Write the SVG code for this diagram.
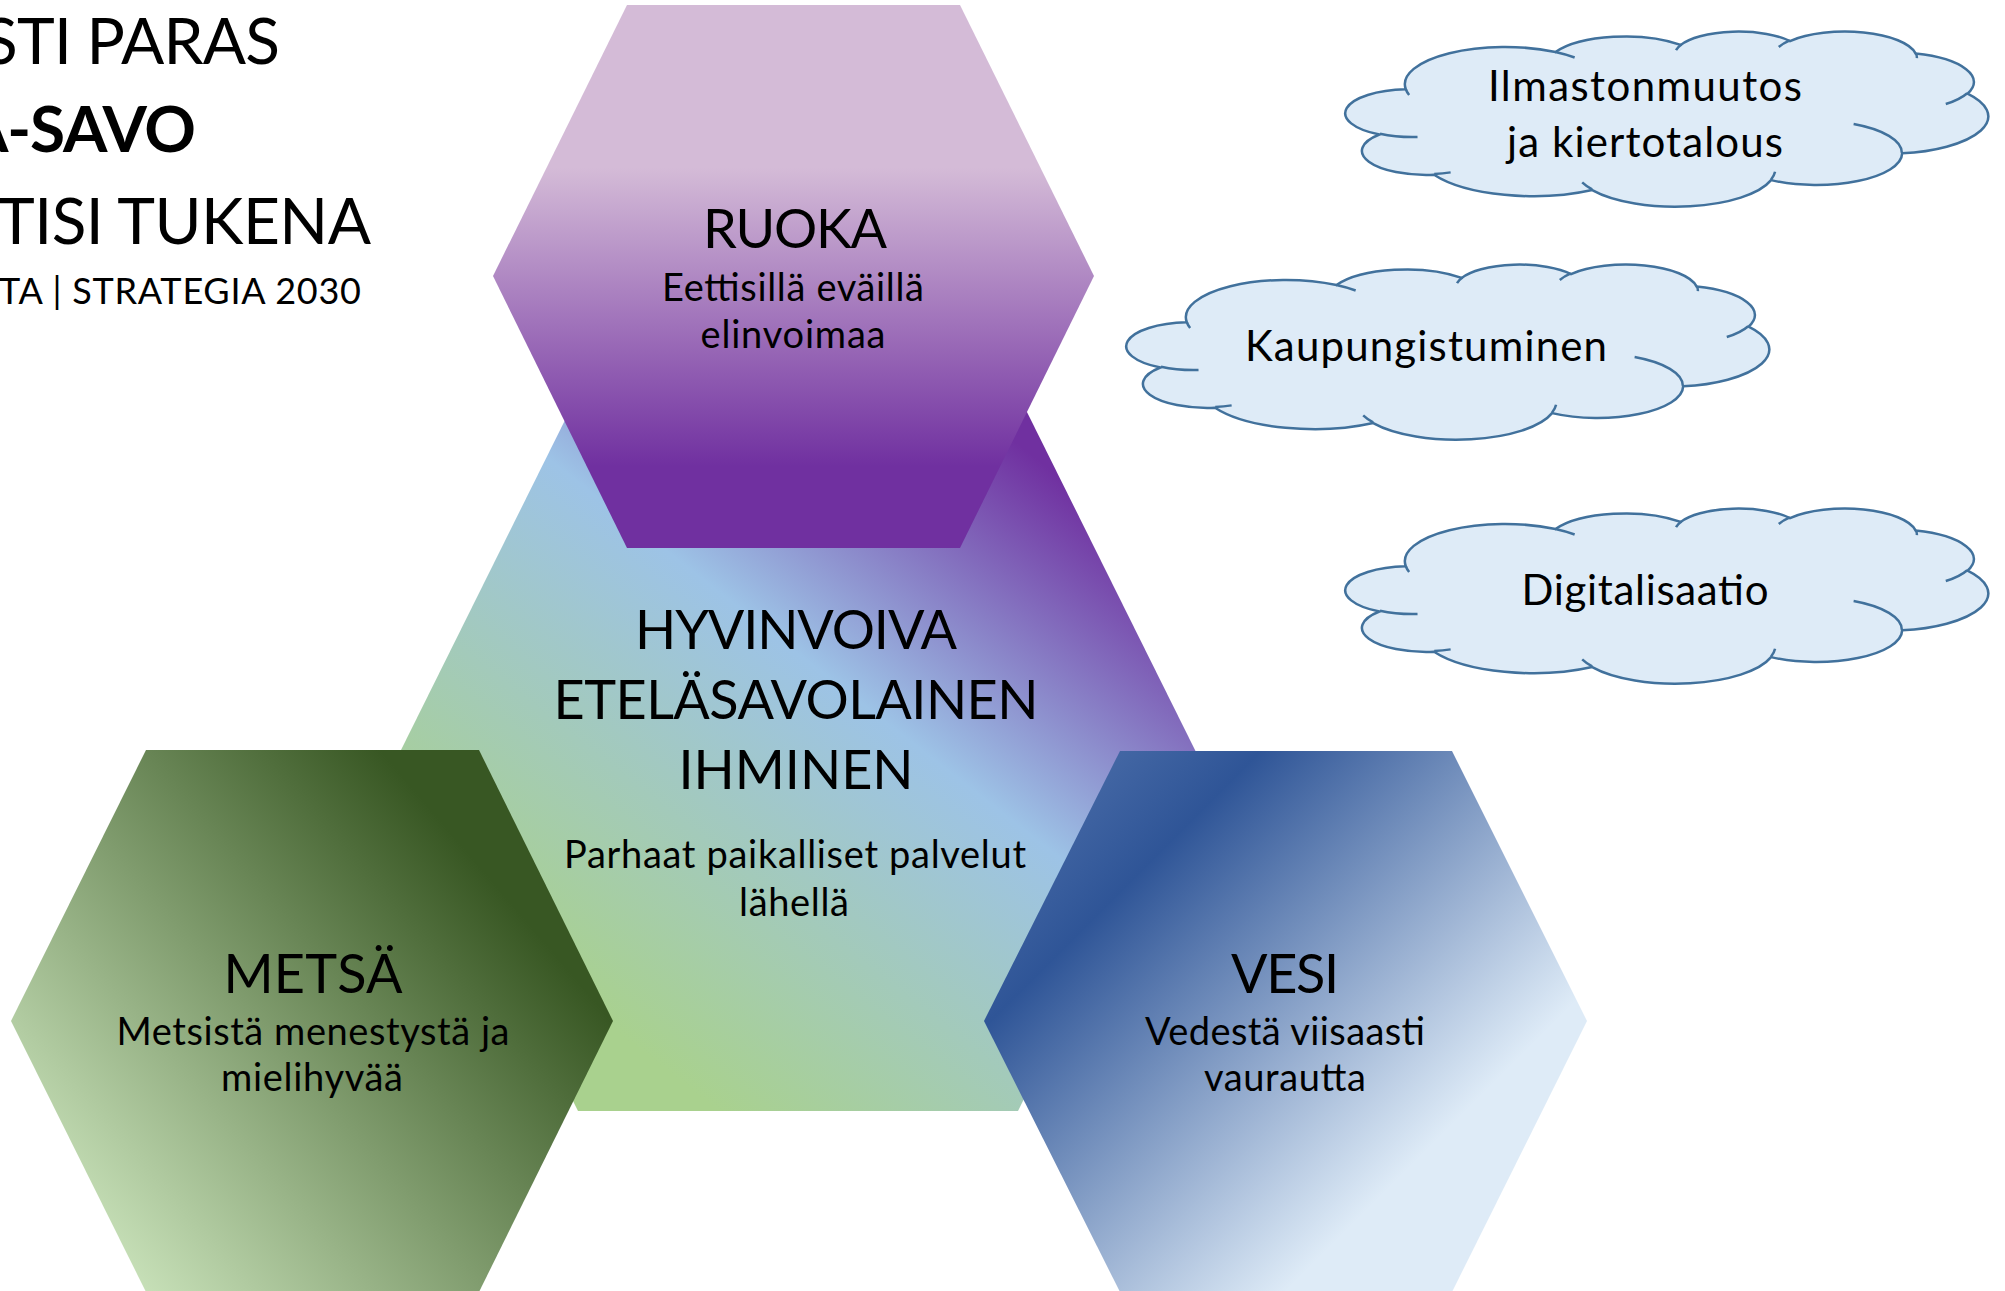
<svg xmlns="http://www.w3.org/2000/svg" xmlns:xlink="http://www.w3.org/1999/xlink" width="2005" height="1291" viewBox="0 0 2005 1291">
  <style>
    text { font-family: Lato, "Open Sans", "Liberation Sans", sans-serif; fill: #000; text-anchor: middle; }
    .title { font-size: 54px; }
    .sub { font-size: 38px; }
    .cloudtxt { font-size: 42px; }
    .head { font-size: 64px; text-anchor: start; }
    .head4 { font-size: 36px; text-anchor: start; }
    .cloud { fill: #DEEBF7; stroke: #41719C; stroke-width: 2.5; }
    .crease { fill: none; stroke: #41719C; stroke-width: 2.5; }
  </style>
  <defs>
    <linearGradient id="gRuoka" x1="0" y1="5" x2="0" y2="548" gradientUnits="userSpaceOnUse">
      <stop offset="0" stop-color="#D4BBD7"/>
      <stop offset="0.3" stop-color="#D4BBD7"/>
      <stop offset="0.85" stop-color="#7030A0"/>
      <stop offset="1" stop-color="#7030A0"/>
    </linearGradient>
    <linearGradient id="gCenter" x1="558" y1="986" x2="995" y2="426" gradientUnits="userSpaceOnUse">
      <stop offset="0" stop-color="#A9D18E"/>
      <stop offset="0.577" stop-color="#9DC3E6"/>
      <stop offset="1" stop-color="#7030A0"/>
    </linearGradient>
    <linearGradient id="gMetsa" x1="-30" y1="1101" x2="380" y2="750" gradientUnits="userSpaceOnUse">
      <stop offset="0" stop-color="#C9E2BA"/>
      <stop offset="1" stop-color="#385723"/>
    </linearGradient>
    <linearGradient id="gVesi" x1="1151" y1="648" x2="1540" y2="1037" gradientUnits="userSpaceOnUse">
      <stop offset="0" stop-color="#4D6FAA"/>
      <stop offset="0.273" stop-color="#2F5597"/>
      <stop offset="1" stop-color="#DEEBF7"/>
    </linearGradient>
    <path id="cloudOutline" class="cloud" vector-effect="non-scaling-stroke" d="M3900,14370 A6753,9190 0 0 1 14006.7,5203.6 A5333,7267 0 0 1 22457.8,3433.8 A4365,5945 0 0 1 29835.6,2483.5 A4857,6595 0 0 1 38319.9,5580.3 A5333,7273 0 0 1 41820.4,15464 A6775,9220 0 0 1 37405.2,30204.9 A5785,7867 0 0 1 28557.5,36815.7 A6752,9215 0 0 1 16483.8,39270.9 A7720,10543 0 0 1 5807.2,35475.8 A4360,5918 0 0 1 2116.8,25552.9 A4345,5945 0 0 1 3900,14370 Z"/>
    <path id="cloudCreases" class="crease" vector-effect="non-scaling-stroke" d="M4693,26177 A4345,5945 0 0 1 2159.2,25379.4 M6928,34899 A4360,5918 0 0 1 5818.8,35280.8 M16478,39090 A6752,9215 0 0 1 15808.4,37345.6 M28827,34751 A6752,9215 0 0 1 28560.4,36660 M34129,22954 A5785,7867 0 0 1 37380.4,30089.6 M41798,15354 A5333,7273 0 0 1 40349.8,18030.4 M38324,5426 A4857,6595 0 0 1 38400.4,6689.4 M29078,3952 A4857,6595 0 0 1 29820.8,2338 M22141,4720 A4365,5945 0 0 1 22500.2,3330 M14000,5192 A6753,9190 0 0 1 15298.5,6539.3 M4127,15789 A6753,9190 0 0 1 3900.1,14369.7"/>
  </defs>

  <g id="header">
    <text class="head" x="-17" y="64" textLength="297">STI PARAS</text>
    <text class="head" x="-36" y="152" textLength="232" font-weight="bold">A-SAVO</text>
    <text class="head" x="-3" y="244" textLength="374">TISI TUKENA</text>
    <text class="head4" x="-1" y="304" textLength="362">TA | STRATEGIA 2030</text>
  </g>

  <g id="connectors"/>

  <g id="node-center">
    <polygon points="578,394 1018,394 1196,752 1018,1111 578,1111 400,752" fill="url(#gCenter)"/>
    <text class="title" x="796" y="649" textLength="322">HYVINVOIVA</text>
    <text class="title" x="796" y="719" textLength="485">ETELÄSAVOLAINEN</text>
    <text class="title" x="796" y="789" textLength="235">IHMINEN</text>
    <text class="sub" x="795" y="868" textLength="462">Parhaat paikalliset palvelut</text>
    <text class="sub" x="794" y="916" textLength="110">lähellä</text>
  </g>

  <g id="node-ruoka">
    <polygon points="627,5 960,5 1094,276 960,548 627,548 493,276" fill="url(#gRuoka)"/>
    <text class="title" x="795" y="248" textLength="184">RUOKA</text>
    <text class="sub" x="793" y="301" textLength="262">Eettisillä eväillä</text>
    <text class="sub" x="793" y="348" textLength="185">elinvoimaa</text>
  </g>

  <g id="node-metsa">
    <polygon points="146,750 479,750 613,1021 479,1292 146,1292 11,1021" fill="url(#gMetsa)"/>
    <text class="title" x="313" y="993" textLength="179">METSÄ</text>
    <text class="sub" x="313" y="1045" textLength="393">Metsistä menestystä ja</text>
    <text class="sub" x="312" y="1091" textLength="182">mielihyvää</text>
  </g>

  <g id="node-vesi">
    <polygon points="1120,751 1452,751 1587,1021 1452,1292 1120,1292 984,1021" fill="url(#gVesi)"/>
    <text class="title" x="1285" y="993" textLength="108">VESI</text>
    <text class="sub" x="1285" y="1045" textLength="280">Vedestä viisaasti</text>
    <text class="sub" x="1285" y="1091" textLength="162">vaurautta</text>
  </g>

  <g id="node-cloud-ilmasto">
    <g transform="translate(1348,31) scale(0.0148148,0.0040509)">
      <use xlink:href="#cloudOutline" href="#cloudOutline"/>
      <use xlink:href="#cloudCreases" href="#cloudCreases"/>
    </g>
    <text class="cloudtxt" x="1645" y="101" textLength="314">Ilmastonmuutos</text>
    <text class="cloudtxt" x="1645" y="157" textLength="276">ja kiertotalous</text>
  </g>

  <g id="node-cloud-kaupungistuminen">
    <g transform="translate(1129,264) scale(0.0148148,0.0040509)">
      <use xlink:href="#cloudOutline" href="#cloudOutline"/>
      <use xlink:href="#cloudCreases" href="#cloudCreases"/>
    </g>
    <text class="cloudtxt" x="1426" y="361" textLength="362">Kaupungistuminen</text>
  </g>

  <g id="node-cloud-digitalisaatio">
    <g transform="translate(1348,508) scale(0.0148148,0.0040509)">
      <use xlink:href="#cloudOutline" href="#cloudOutline"/>
      <use xlink:href="#cloudCreases" href="#cloudCreases"/>
    </g>
    <text class="cloudtxt" x="1645" y="605" textLength="247">Digitalisaatio</text>
  </g>
</svg>
